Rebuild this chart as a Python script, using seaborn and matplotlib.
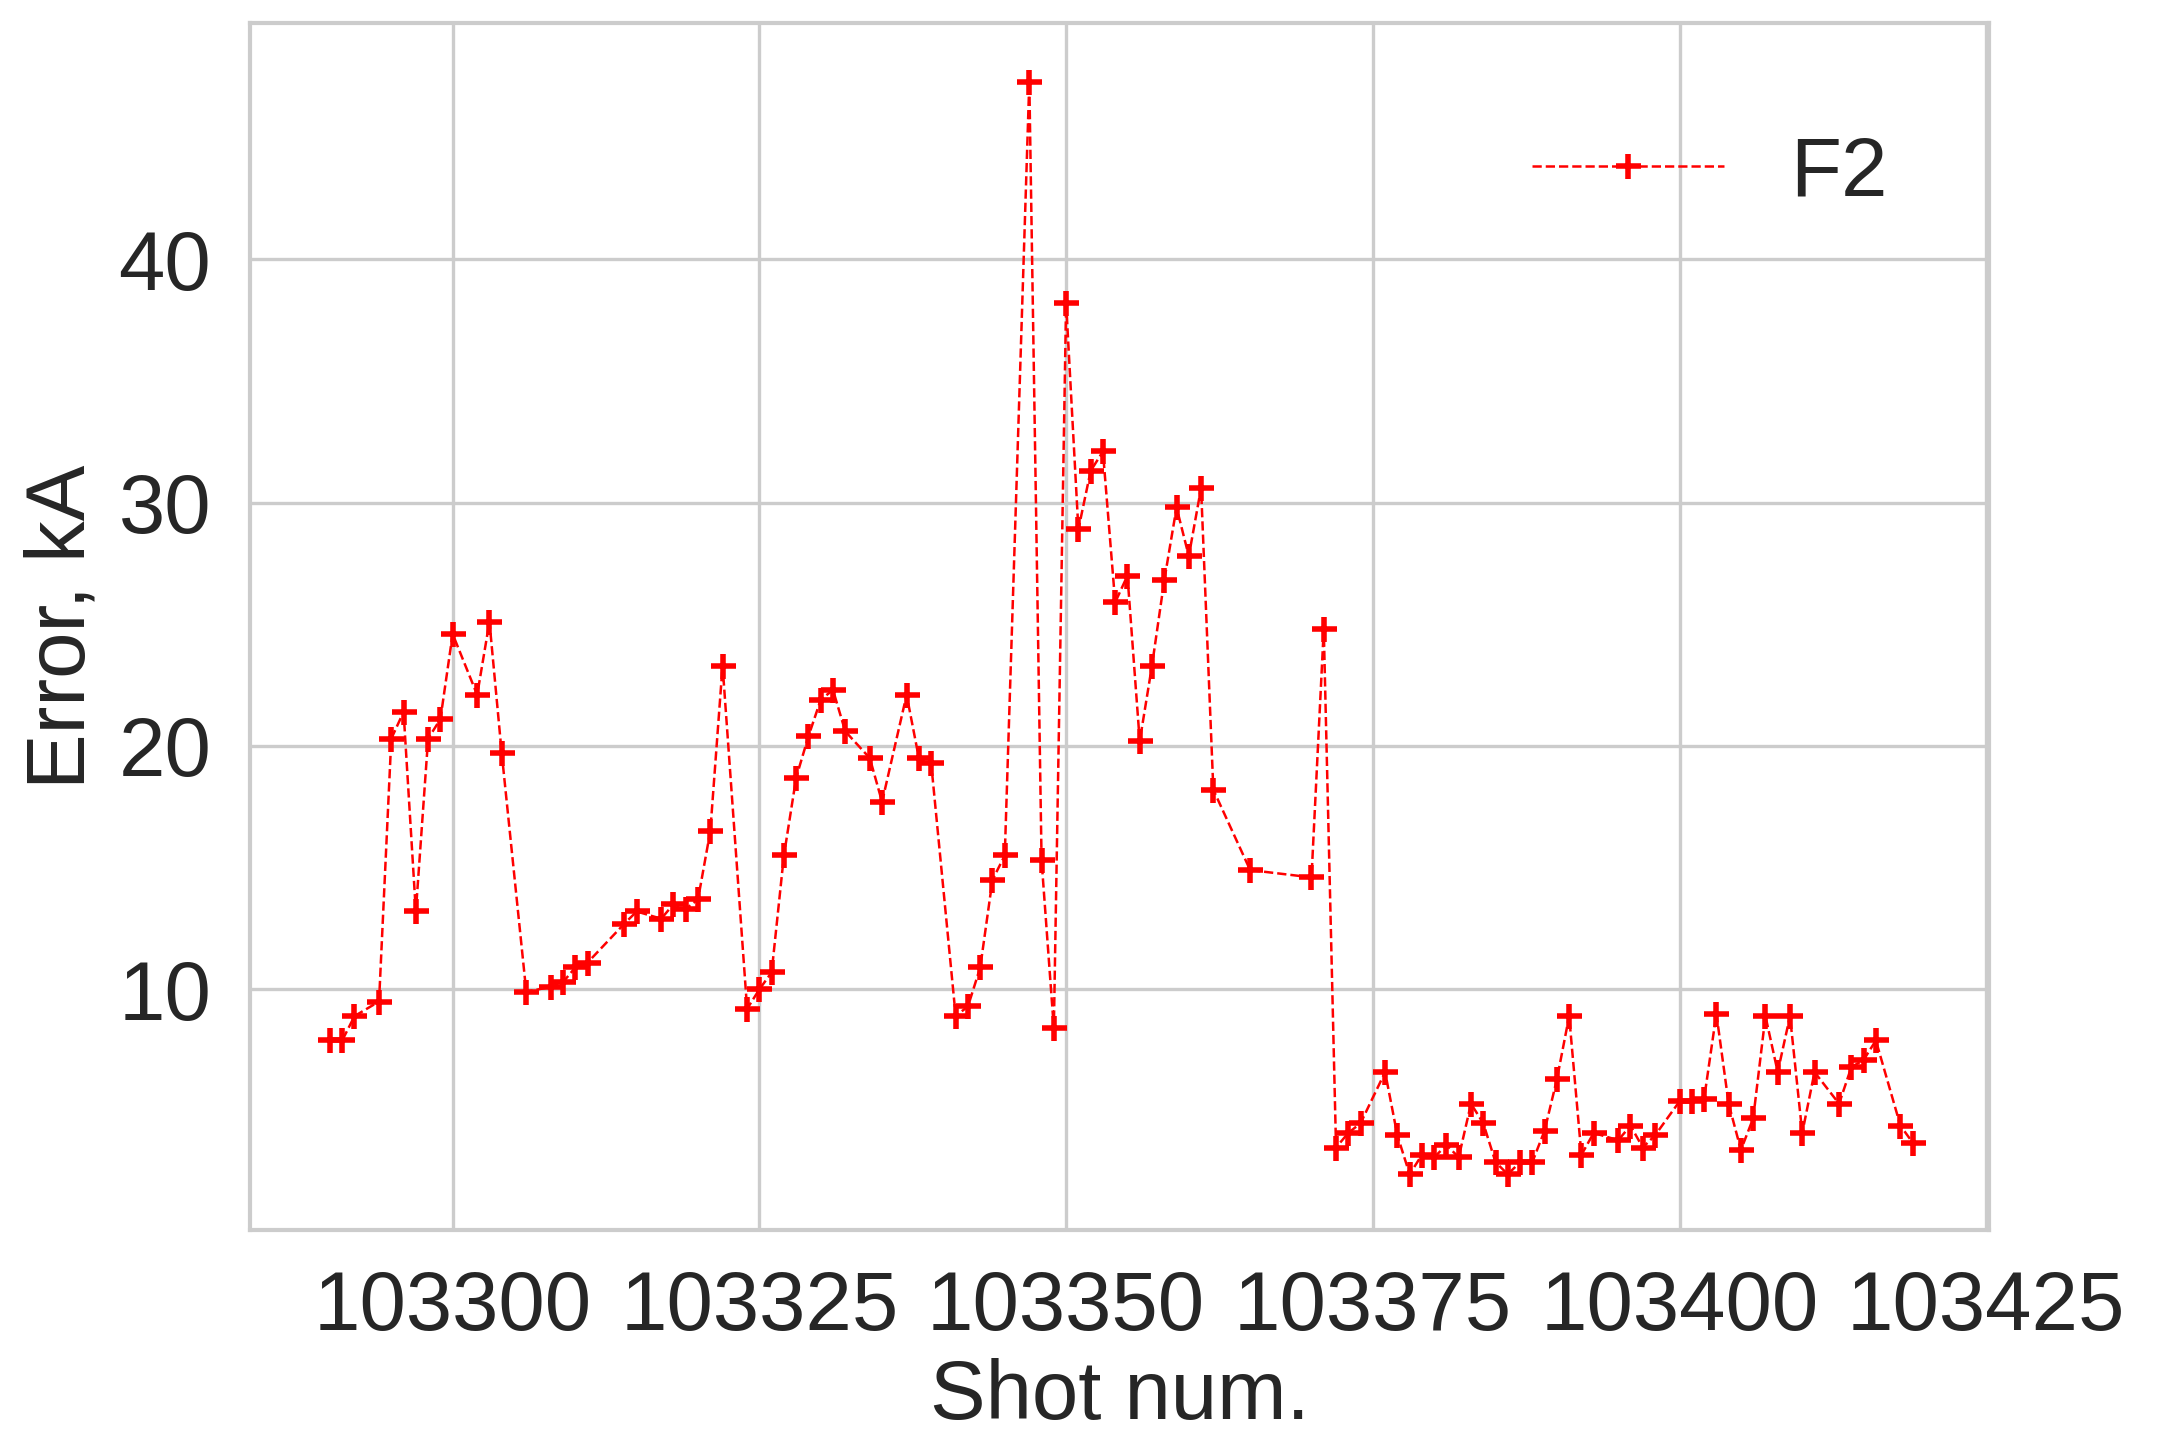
import matplotlib
matplotlib.use("Agg")
import matplotlib.pyplot as plt
import seaborn as sns
import pandas as pd

shots = [103290, 103291, 103292, 103294, 103295, 103296, 103297, 103298, 103299, 103300,
         103302, 103303, 103304, 103306, 103308, 103309, 103310, 103311, 103314, 103315,
         103317, 103318, 103319, 103320, 103321, 103322, 103324, 103325, 103326, 103327,
         103328, 103329, 103330, 103331, 103332, 103334, 103335, 103337, 103338, 103339,
         103341, 103342, 103343, 103344, 103345, 103347, 103348, 103349, 103350, 103351,
         103352, 103353, 103354, 103355, 103356, 103357, 103358, 103359, 103360, 103361,
         103362, 103365, 103370, 103371, 103372, 103373, 103374, 103376, 103377, 103378,
         103379, 103380, 103381, 103382, 103383, 103384, 103385, 103386, 103387, 103388,
         103389, 103390, 103391, 103392, 103393, 103395, 103396, 103397, 103398, 103400,
         103401, 103402, 103403, 103404, 103405, 103406, 103407, 103408, 103409, 103410,
         103411, 103413, 103414, 103415, 103416, 103418, 103419]
errors = [7.9, 7.9, 8.9, 9.5, 20.3, 21.4, 13.2, 20.3, 21.1, 24.6,
          22.1, 25.1, 19.7, 9.9, 10.1, 10.3, 10.9, 11.1, 12.7, 13.2,
          12.9, 13.5, 13.3, 13.7, 16.5, 23.3, 9.2, 10.0, 10.7, 15.5,
          18.7, 20.4, 21.9, 22.3, 20.6, 19.5, 17.7, 22.1, 19.5, 19.3,
          8.9, 9.3, 10.9, 14.5, 15.5, 47.3, 15.3, 8.4, 38.2, 28.9,
          31.3, 32.1, 25.9, 27.0, 20.2, 23.3, 26.8, 29.8, 27.8, 30.6,
          18.2, 14.9, 14.6, 24.8, 3.5, 4.1, 4.5, 6.6, 4.0, 2.4,
          3.2, 3.1, 3.6, 3.1, 5.3, 4.5, 2.9, 2.4, 2.9, 2.9,
          4.2, 6.3, 8.9, 3.2, 4.1, 3.8, 4.4, 3.5, 4.0, 5.4,
          5.4, 5.5, 9.0, 5.3, 3.4, 4.7, 8.9, 6.6, 8.9, 4.1,
          6.6, 5.3, 6.8, 7.1, 7.9, 4.4, 3.7]

sns.set_theme(style="whitegrid")
plt.rcParams['font.family'] = ['Liberation Sans', 'DejaVu Sans']

df = pd.DataFrame({"shot": shots, "err": errors})
fig = plt.figure(figsize=(10.785, 7.22), dpi=200)
ax = fig.add_axes([0.116, 0.148, 0.806, 0.836])
sns.lineplot(data=df, x="shot", y="err", ax=ax, color="red", linestyle="--",
             linewidth=0.9, marker="+", markersize=9, markeredgewidth=2.0,
             markeredgecolor="red", label="F2")
ax.set_xlim(103283.5, 103425.2)
ax.set_ylim(0.1, 49.7)
ax.set_xticks([103300, 103325, 103350, 103375, 103400, 103425])
ax.set_yticks([10, 20, 30, 40])
ax.tick_params(labelsize=30, pad=8)
ax.set_xlabel("Shot num.", fontsize=30, labelpad=4)
ax.set_ylabel("Error, kA", fontsize=30, labelpad=6)
for s in ax.spines.values():
    s.set_visible(True)
    s.set_color("#cccccc")
    s.set_linewidth(1.5)
ax.grid(color="#cccccc", linewidth=1.2)
leg = ax.legend(fontsize=30, frameon=False, loc="upper right", handlelength=2.3,
                bbox_to_anchor=(0.985, 0.97))
fig.savefig("out.png", dpi=200)
